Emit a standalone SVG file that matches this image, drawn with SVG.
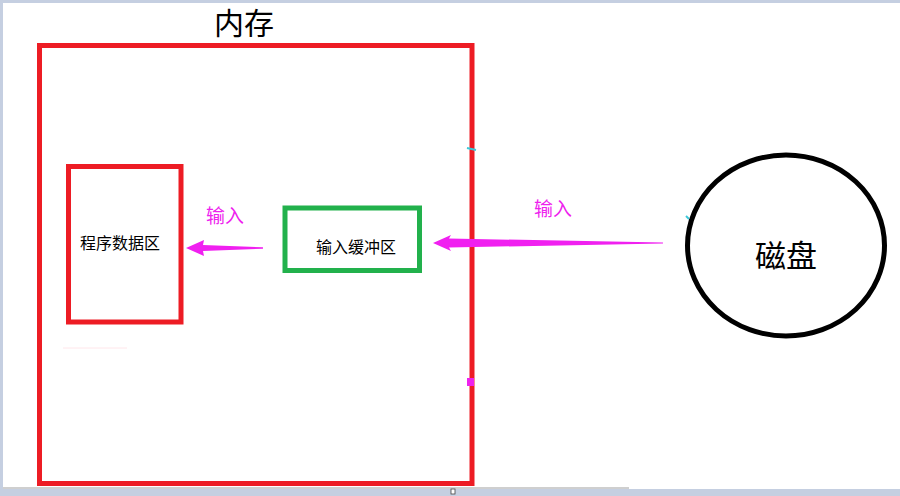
<svg xmlns="http://www.w3.org/2000/svg" width="900" height="496" viewBox="0 0 900 496">
<style>
.box{fill:none;stroke-width:5}
.red{stroke:#ed1c24}
.lbl{font-family:"Noto Sans CJK SC","Microsoft YaHei",sans-serif;fill:#000}
.mag{font-family:"Noto Sans CJK SC",sans-serif;fill:#ee22ee;font-size:19px;text-anchor:middle}
.arrow{fill:#f020f0}
</style>
<rect x="0" y="0" width="900" height="496" fill="#c5cfe1"/>
<rect x="3" y="3" width="897" height="486" fill="#ffffff"/>
<rect x="3" y="487" width="626" height="2" fill="#cfcfcf"/>
<rect x="451" y="489" width="4" height="5" fill="#ffffff" stroke="#444" stroke-width="0.8"/>
<g id="memory">
<rect class="box red" x="39.5" y="45.5" width="432.5" height="438"/>
<text class="lbl" x="244" y="34" font-size="30" text-anchor="middle">内存</text>
</g>
<g id="program-data">
<rect class="box red" x="68.5" y="166.5" width="112.5" height="155.5"/>
<text class="lbl" x="120" y="249" font-size="16" text-anchor="middle">程序数据区</text>
</g>
<g id="input-buffer">
<rect class="box" stroke="#22b14c" x="285" y="208" width="134.5" height="62.5"/>
<text class="lbl" x="356" y="253" font-size="16" text-anchor="middle">输入缓冲区</text>
</g>
<g id="disk">
<ellipse cx="786" cy="245.5" rx="98.5" ry="90.5" fill="none" stroke="#000" stroke-width="5"/>
<text class="lbl" x="786" y="267" font-size="31" text-anchor="middle">磁盘</text>
</g>
<g id="connectors">
<polygon class="arrow" points="186,248 204,240 203,245 263,247.3 263,248.7 203,251 204,256"/>
<text class="mag" x="225" y="223">输入</text>
<polygon class="arrow" points="433,243 451,235 449,238.5 663,242.5 663,243.5 449,247.5 451,251"/>
<text class="mag" x="553" y="216">输入</text>
</g>
<g id="artifacts">
<line x1="467" y1="148" x2="476" y2="150" stroke="#3cc8d8" stroke-width="2"/>
<rect x="467" y="378" width="7" height="8" fill="#ee22ee"/>
<line x1="686" y1="216" x2="689" y2="219" stroke="#3cc8d8" stroke-width="2"/>
<line x1="63" y1="348" x2="127" y2="348" stroke="#ffe6ea" stroke-width="1"/>
</g>
</svg>
